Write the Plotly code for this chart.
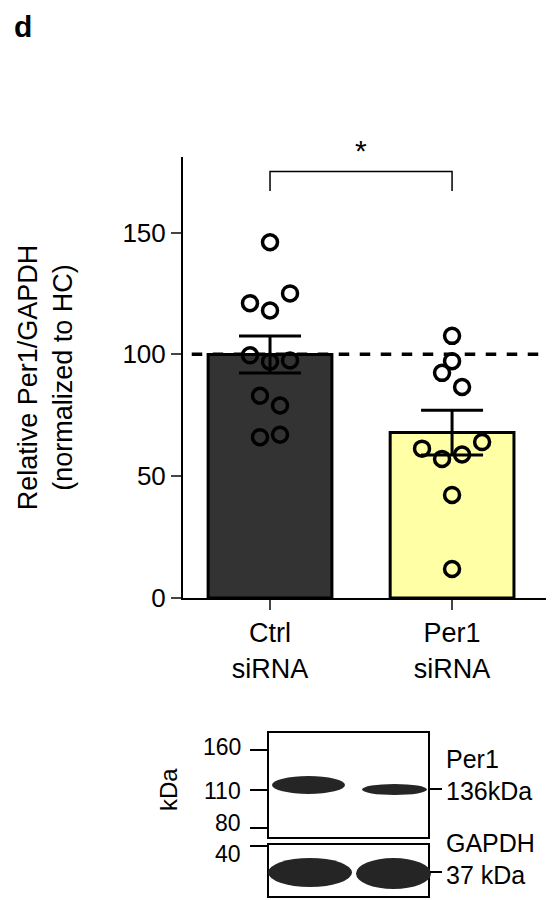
import plotly.graph_objects as go

categories = ["Ctrl<br>siRNA", "Per1<br>siRNA"]
means = [99.9, 67.9]
sems = [7.6, 9.2]
ctrl_points = [146, 121, 118, 125, 99.6, 97, 97.5, 83, 79, 66, 67]
ctrl_offsets = [0, -0.11, 0, 0.11, -0.11, 0, 0.11, -0.055, 0.055, -0.055, 0.055]
per1_points = [107.6, 97.2, 92.4, 86.6, 61.3, 57.1, 58.9, 64, 42.3, 11.9]
per1_offsets = [0, 0, -0.055, 0.055, -0.165, -0.055, 0.055, 0.165, 0, 0]
y_ticks = [0, 50, 100, 150]

FONT = "Liberation Sans, Arial, sans-serif"
PAD = 8  # page body margin
W, H = 554 - PAD, 900 - PAD
L, R, T, B = 183 - PAD, 6, 157 - PAD, 310 - PAD

# page pixel -> paper coordinates
def px(x):
    return (x - PAD - L) / (W - L - R)

def py(y):
    return (H - B - (y - PAD)) / (H - T - B)

fig = go.Figure()
fig.add_trace(go.Bar(
    x=[0, 1], y=means, width=0.68,
    marker=dict(color=["#333333", "#ffffa6"], line=dict(color="black", width=3)),
    error_y=dict(type="data", array=sems, color="black", thickness=3, width=31),
))
for pts, offs, c in [(ctrl_points, ctrl_offsets, 0), (per1_points, per1_offsets, 1)]:
    fig.add_trace(go.Scatter(
        x=[c + o for o in offs], y=pts, mode="markers",
        marker=dict(symbol="circle-open", size=15, color="black", line=dict(width=3.5)),
    ))

fig.add_shape(type="line", x0=-0.43, x1=1.52, y0=100, y1=100,
              line=dict(color="black", width=3.5, dash="dash"))
# significance bracket
fig.add_shape(type="path", path="M 0,167 L 0,175 L 1,175 L 1,167",
              line=dict(color="black", width=1.5))
fig.add_annotation(x=0.5, y=176, text="*", showarrow=False, yanchor="bottom",
                   font=dict(size=30, color="black"))

shapes = []
# western blot inset
shapes.append(dict(type="rect", x0=px(268), x1=px(429), y0=py(732), y1=py(838),
                   line=dict(color="black", width=2)))
shapes.append(dict(type="rect", x0=px(268), x1=px(429), y0=py(844), y1=py(897),
                   line=dict(color="black", width=2)))
for x0, x1, y0, y1 in [(272, 345, 776, 794), (362, 427, 784, 795),
                       (268, 352, 858, 887), (356, 431, 858, 889)]:
    shapes.append(dict(type="circle", x0=px(x0), x1=px(x1), y0=py(y0), y1=py(y1),
                       fillcolor="#252525", line=dict(width=0)))
for yy in [750, 790, 828, 846]:
    shapes.append(dict(type="line", x0=px(250), x1=px(268), y0=py(yy), y1=py(yy),
                       line=dict(color="black", width=2)))
for yy in [789, 872]:
    shapes.append(dict(type="line", x0=px(430), x1=px(442), y0=py(yy), y1=py(yy),
                       line=dict(color="black", width=2)))
for s in shapes:
    s.update(xref="paper", yref="paper")
    fig.add_shape(**s)

for txt, yy in [("160", 747), ("110", 791), ("80", 823), ("40", 854)]:
    fig.add_annotation(xref="paper", yref="paper", x=px(243), y=py(yy), text=txt,
                       showarrow=False, xanchor="right", yanchor="middle",
                       font=dict(size=23))
fig.add_annotation(xref="paper", yref="paper", x=px(168), y=py(790), text="kDa",
                   textangle=-90, showarrow=False, xanchor="center", yanchor="middle",
                   font=dict(size=24))
for txt, yy in [("Per1", 759), ("136kDa", 791), ("GAPDH", 843), ("37 kDa", 875)]:
    fig.add_annotation(xref="paper", yref="paper", x=px(444), y=py(yy), text=txt,
                       showarrow=False, xanchor="left", yanchor="middle",
                       font=dict(size=25))
fig.add_annotation(xref="paper", yref="paper", x=px(12), y=py(26), text="<b>d</b>",
                   showarrow=False, xanchor="left", yanchor="middle", font=dict(size=30))

fig.update_layout(
    width=W, height=H, margin=dict(l=L, r=R, t=T, b=B),
    plot_bgcolor="white", paper_bgcolor="white", showlegend=False,
    font=dict(family=FONT, color="black", size=26),
    xaxis=dict(range=[-0.478, 1.527], tickvals=[0, 1], ticktext=categories,
               showline=True, linecolor="black", linewidth=2, ticks="outside",
               ticklen=10, tickwidth=2, tickfont=dict(size=27), showgrid=False),
    yaxis=dict(range=[0, 181], tickvals=y_ticks, showline=True, linecolor="black",
               linewidth=2, ticks="outside", ticklen=10, tickwidth=2, showgrid=False,
               zeroline=False, tickfont=dict(size=26),
               title=dict(text="Relative Per1/GAPDH<br>(normalized to HC)",
                          font=dict(size=27), standoff=42)),
)

fig.write_html("out.html")
